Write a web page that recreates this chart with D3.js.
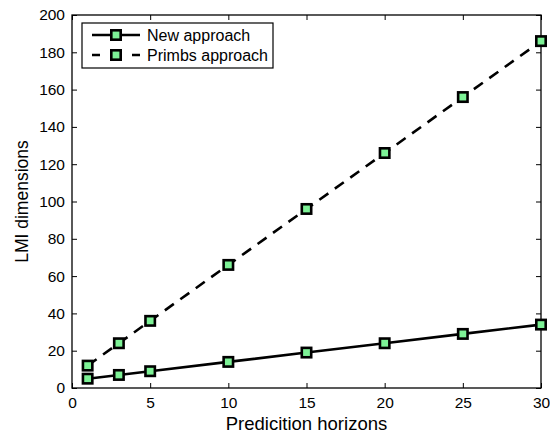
<!DOCTYPE html>
<html><head><meta charset="utf-8">
<script src="https://cdn.jsdelivr.net/npm/d3@7"></script>
<style>body{margin:0;background:#fff}text{font-family:"Liberation Sans",Arial,sans-serif}</style>
</head><body><svg id="c" width="550" height="437"></svg>
<script>
const horizons = [1, 3, 5, 10, 15, 20, 25, 30];
const newApproach = [5, 7, 9, 14, 19, 24, 29, 34];
const primbsApproach = [12, 24, 36, 66, 96, 126, 156, 186];
const xTicks = [0, 5, 10, 15, 20, 25, 30];
const yTicks = [0, 20, 40, 60, 80, 100, 120, 140, 160, 180, 200];
const seriesNames = ["New approach", "Primbs approach"];

const svg = d3.select("#c");
const L = 72, R = 541, T = 15, B = 388;
const x = d3.scaleLinear().domain([0, 30]).range([L, R]);
const y = d3.scaleLinear().domain([0, 200]).range([B, T]);
const fill = "rgb(125,242,150)";
const ms = 9.4, msw = 2.6;

const g = svg.append("g");
const ax = (gen, tx, ty) => {
  const a = g.append("g").attr("transform", `translate(${tx},${ty})`).call(gen);
  a.select(".domain").remove();
  a.selectAll("line").attr("stroke", "#000");
  a.selectAll("text").attr("font-size", 15.5).attr("fill", "#000");
  return a;
};
ax(d3.axisBottom(x).tickValues(xTicks).tickSize(-5).tickPadding(9).tickFormat(d3.format("d")), 0, B);
ax(d3.axisTop(x).tickValues(xTicks).tickSize(-5).tickFormat(""), 0, T);
ax(d3.axisLeft(y).tickValues(yTicks).tickSize(-5).tickPadding(7).tickFormat(d3.format("d")), L, 0);
ax(d3.axisRight(y).tickValues(yTicks).tickSize(-5).tickFormat(""), R, 0);
g.append("rect").attr("x", L).attr("y", T).attr("width", R - L).attr("height", B - T)
  .attr("fill", "none").attr("stroke", "#000").attr("stroke-width", 1.3);

const line = d3.line().x((d, i) => x(horizons[i])).y(d => y(d));
const series = [
  {vals: newApproach, dash: null, legDash: null},
  {vals: primbsApproach, dash: "11,8", legDash: "8,32"}
];
series.forEach(s => {
  g.append("path").datum(s.vals).attr("d", line).attr("fill", "none")
    .attr("stroke", "#000").attr("stroke-width", 2.6)
    .attr("stroke-dasharray", s.dash);
});
series.forEach(s => {
  g.selectAll(null).data(s.vals).enter().append("rect")
    .attr("x", (d, i) => x(horizons[i]) - ms / 2).attr("y", d => y(d) - ms / 2)
    .attr("width", ms).attr("height", ms)
    .attr("fill", fill).attr("stroke", "#000").attr("stroke-width", msw);
});

// legend
const lg = svg.append("g");
lg.append("rect").attr("x", 82).attr("y", 23).attr("width", 191).attr("height", 45)
  .attr("fill", "#fff").attr("stroke", "#000").attr("stroke-width", 1.2);
seriesNames.forEach((n, i) => {
  const yy = 35 + i * 20;
  lg.append("line").attr("x1", 92).attr("x2", 140).attr("y1", yy).attr("y2", yy)
    .attr("stroke", "#000").attr("stroke-width", 2.6)
    .attr("stroke-dasharray", series[i].legDash);
  lg.append("rect").attr("x", 116 - ms / 2).attr("y", yy - ms / 2).attr("width", ms).attr("height", ms)
    .attr("fill", fill).attr("stroke", "#000").attr("stroke-width", msw);
  lg.append("text").attr("x", 147).attr("y", yy + 6).attr("font-size", 16).text(n);
});

svg.append("text").attr("x", (L + R) / 2).attr("y", 430).attr("text-anchor", "middle")
  .attr("font-size", 18.5).text("Predicition horizons");
svg.append("text").attr("transform", `translate(28,${(T + B) / 2}) rotate(-90)`)
  .attr("text-anchor", "middle").attr("font-size", 17.5).text("LMI dimensions");
</script></body></html>
